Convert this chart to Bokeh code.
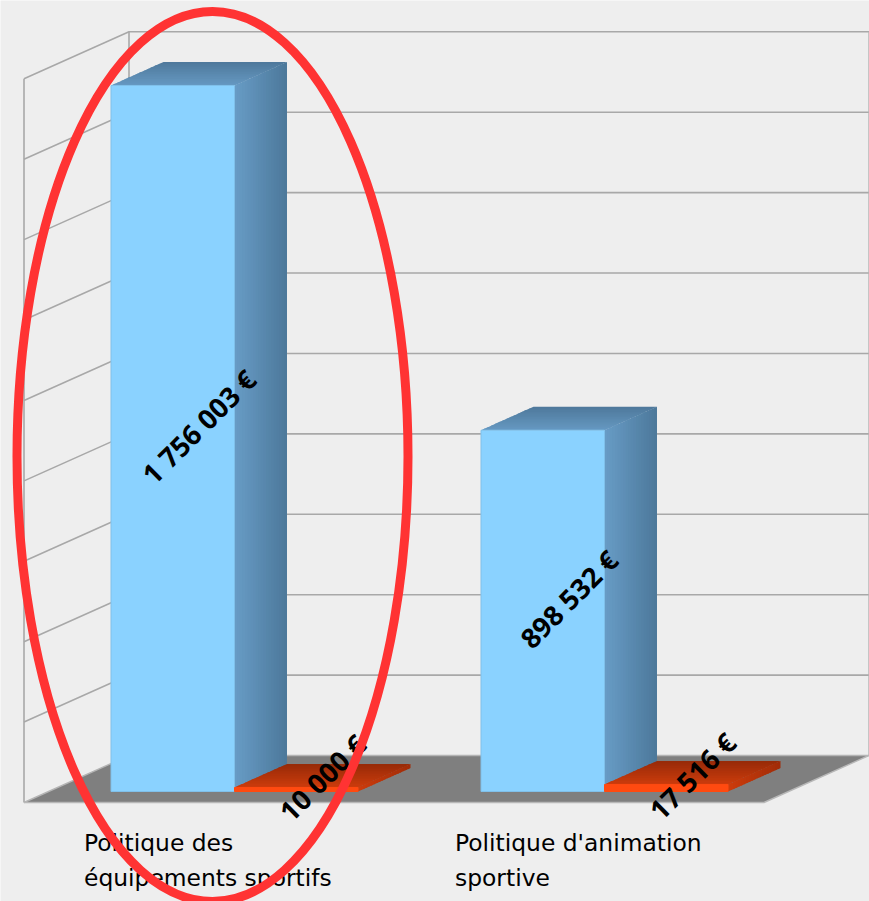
import math
from bokeh.plotting import figure
from bokeh.models import Range1d
from bokeh.core.properties import value
from bokeh.embed import file_html
from bokeh.resources import INLINE

categories = [["Politique des", "équipements sportifs"], ["Politique d'animation", "sportive"]]
series_blue = [1756003, 898532]
series_orange = [10000, 17516]
blue_labels = ["1 756 003 €", "898 532 €"]
orange_labels = ["10 000 €", "17 516 €"]
grid_values = [200000, 400000, 600000, 800000, 1000000, 1200000, 1400000, 1600000, 1800000]

BG = "#eeeeee"
GRID = "#a8a8a8"
FONT = "DejaVu Sans"
K = 706 / 1756003          # px per euro
WALL_L, WALL_R, WALL_FLOOR = 128.5, 868.5, 755
FRONT_L, FRONT_FLOOR = 23.5, 802
FLOOR_R = 763.5
BASE = 791
GROUP_X = [110.5, 480.5]
BAR_W = 123.5
DX, DY = 52.5, 23.5

p = figure(width=869, height=901, output_backend="svg", toolbar_location=None,
           x_range=Range1d(0, 869), y_range=Range1d(901, 0), min_border=0,
           background_fill_color=BG, border_fill_color=BG, outline_line_color=None)
p.axis.visible = False
p.grid.visible = False


def mix(a, b, t):
    return "#%02x%02x%02x" % tuple(round(a[i] + (b[i] - a[i]) * t) for i in range(3))


def strips(p0, u, v, c0, c1, n=20):
    """Parallelogram from corner p0 with edges u, v; colour runs along u."""
    xs, ys, cs = [], [], []
    for i in range(n):
        t0, t1 = i / n, min(1, (i + 1.6) / n)
        xs.append([p0[0] + u[0] * t0, p0[0] + u[0] * t1, p0[0] + u[0] * t1 + v[0], p0[0] + u[0] * t0 + v[0]])
        ys.append([p0[1] + u[1] * t0, p0[1] + u[1] * t1, p0[1] + u[1] * t1 + v[1], p0[1] + u[1] * t0 + v[1]])
        cs.append(mix(c0, c1, (i + .5) / n))
    p.patches(xs, ys, fill_color=cs, line_color=None)


# floor
p.patch([FRONT_L, WALL_L, WALL_R, FLOOR_R], [FRONT_FLOOR, WALL_FLOOR, WALL_FLOOR, FRONT_FLOOR],
        fill_color="#7f7f7f", line_color=None)

# walls and gridlines
top_y = WALL_FLOOR - grid_values[-1] * K
for v in grid_values:
    y = WALL_FLOOR - v * K
    p.line([FRONT_L, WALL_L, WALL_R], [y + FRONT_FLOOR - WALL_FLOOR, y, y], line_color=GRID, line_width=1.6)
p.line([FRONT_L, WALL_L, WALL_R, WALL_R], [FRONT_FLOOR, WALL_FLOOR, WALL_FLOOR, top_y],
       line_color="#b4b4b4", line_width=1.4)
p.line([WALL_L, WALL_L], [top_y, WALL_FLOOR], line_color=GRID, line_width=1.6)
p.line([FRONT_L, FRONT_L], [FRONT_FLOOR, top_y + FRONT_FLOOR - WALL_FLOOR], line_color=GRID, line_width=1.6)
p.line([FRONT_L, FLOOR_R, WALL_R], [FRONT_FLOOR, FRONT_FLOOR, WALL_FLOOR], line_color="#b8b8b8", line_width=1.4)


def bar3d(x0, val, front, edge, top_back, top_front, side_l, side_r):
    h = val * K
    y1 = BASE - h
    x1 = x0 + BAR_W
    # top face: colour runs from the back edge to the front edge
    xs, ys, cs = [], [], []
    n = 14
    for i in range(n):
        a, b = i / n, min(1, (i + 1.6) / n)
        xa, ya = x0 + DX * (1 - a), y1 - DY * (1 - a)
        xb, yb = x0 + DX * (1 - b), y1 - DY * (1 - b)
        xs.append([xa, xa + BAR_W, xb + BAR_W, xb])
        ys.append([ya, ya, yb, yb])
        cs.append(mix(top_back, top_front, (i + .5) / n))
    p.patches(xs, ys, fill_color=cs, line_color=None)
    strips((x1, y1), (DX, -DY), (0, h), side_l, side_r)
    p.quad(left=[x0], right=[x1], top=[y1], bottom=[BASE], fill_color=front, line_color=edge, line_width=1)


BLUE = dict(front="#8ad2ff", edge="#80c0ea", top_back=(78, 120, 155), top_front=(102, 153, 194),
            side_l=(104, 156, 198), side_r=(76, 120, 154))
ORANGE = dict(front="#ff4a10", edge="#ff4a10", top_back=(150, 42, 8), top_front=(205, 60, 12),
              side_l=(205, 60, 12), side_r=(160, 44, 8))

for gx, b, o in zip(GROUP_X, series_blue, series_orange):
    bar3d(gx, b, **BLUE)
    bar3d(gx + BAR_W, o, **ORANGE)

# data labels
lx, ly, lt = [], [], []
for gx, b, o, bl, ol in zip(GROUP_X, series_blue, series_orange, blue_labels, orange_labels):
    lx += [gx + BAR_W / 2 + DX / 2, gx + BAR_W * 1.5 + DX / 2]
    ly += [BASE - b * K / 2 - DY / 2, BASE - o * K / 2 - DY / 2]
    lt += [bl, ol]
p.text(lx, ly, text=lt, angle=math.pi / 4, text_align="center", text_baseline="middle",
       text_font=value("Open Sans"), text_font_style="bold", text_font_size="27.5px", text_color="#000000")

# category labels
CAT_X = [83.5, 454.5]
for cx, lines in zip(CAT_X, categories):
    p.text([cx, cx], [842, 877], text=lines, text_align="left", text_baseline="alphabetic",
           text_font=value(FONT), text_font_size="23.4px", text_color="#000000")

# red ellipse
p.ellipse([212], [456], width=[391], height=[890], fill_color=None, line_color="#ff3333", line_width=9)

open("out.html", "w").write(file_html(p, INLINE))
